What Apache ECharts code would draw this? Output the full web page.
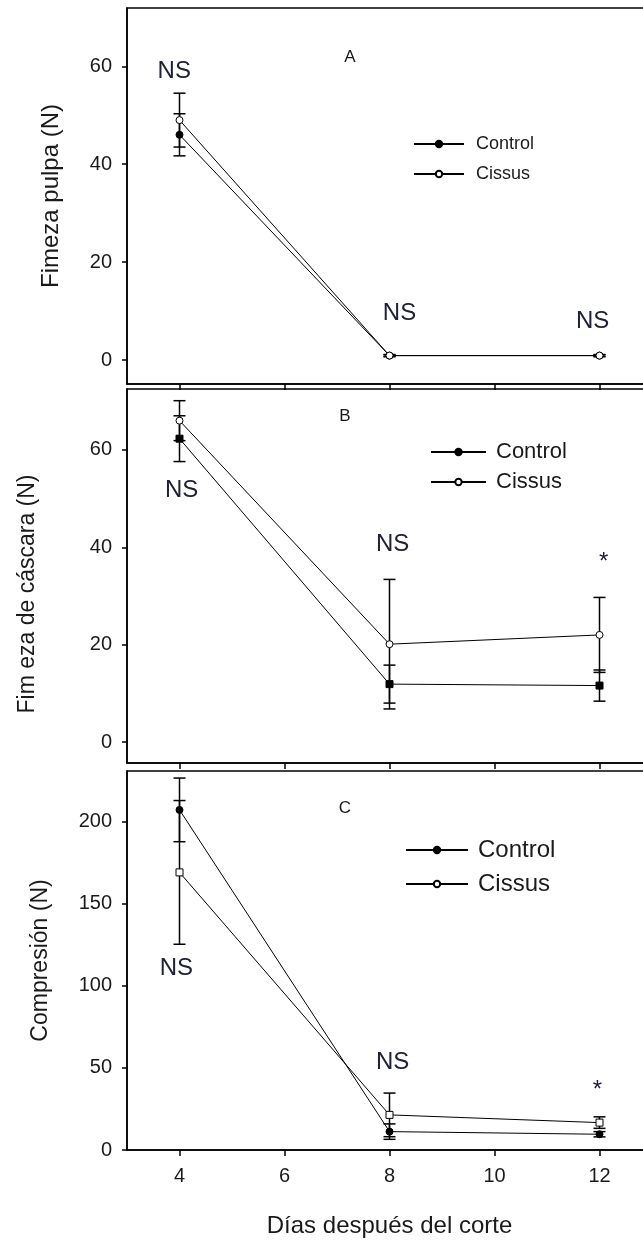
<!DOCTYPE html>
<html><head><meta charset="utf-8">
<script src="https://cdn.jsdelivr.net/npm/echarts@6/dist/echarts.min.js"></script>
<style>html,body{margin:0;padding:0;background:#fff}#c{width:643px;height:1247px}</style>
</head><body><div id="c"></div>
<script>
// ---------- data ----------
const days = [4, 8, 12];
const xTicks = [4, 6, 8, 10, 12];

// Panel A: Fimeza pulpa (N)
const ctrlA = [46.0, 0.9, 0.9];
const ctrlAErr = [4.3, 0.2, 0.2];
const cisA = [49.0, 0.9, 0.9];
const cisAErr = [5.5, 0.2, 0.2];
const yTicksA = [0, 20, 40, 60];
const noteXA = [3.9, 8.19, 11.87];
const noteYA = [59, 9.6, 7.8];
const noteTA = ['NS', 'NS', 'NS'];

// Panel B: Firmeza de cáscara (N)
const ctrlB = [62.3, 11.9, 11.6];
const ctrlBErr = [4.7, 3.9, 3.2];
const cisB = [66.0, 20.1, 22.0];
const cisBErr = [4.1, 13.3, 7.7];
const yTicksB = [0, 20, 40, 60];
const noteXB = [4.04, 8.06, 12.08];
const noteYB = [51.6, 40.5, 36.9];
const noteTB = ['NS', 'NS', '*'];

// Panel C: Compresión (N)
const ctrlC = [207.3, 11.2, 9.6];
const ctrlCErr = [19.4, 4.7, 1.6];
const cisC = [169.2, 21.4, 16.7];
const cisCErr = [43.8, 13.3, 3.5];
const yTicksC = [0, 50, 100, 150, 200];
const noteXC = [3.94, 8.06, 11.96];
const noteYC = [111, 53.7, 36.6];
const noteTC = ['NS', 'NS', '*'];

// ---------- build ----------
const FONT = '"Liberation Sans", Arial, sans-serif';
const TXT = '#1a1a1a';

const panels = [
  {letter:'A', ctrl:ctrlA, ctrlErr:ctrlAErr, cis:cisA, cisErr:cisAErr, ticks:yTicksA,
   nx:noteXA, ny:noteYA, nt:noteTA, top:8, height:376, min:-4.9, max:71.9,
   name:'Fimeza pulpa (N)', nameGap:64, nameSize:24, namePad:[0,0,0,0],
   ctrlSym:'circle', cisSym:'circle', letterPos:[350,57], letterSize:17},
  {letter:'B', ctrl:ctrlB, ctrlErr:ctrlBErr, cis:cisB, cisErr:cisBErr, ticks:yTicksB,
   nx:noteXB, ny:noteYB, nt:noteTB, top:389, height:374, min:-4.3, max:72.5,
   name:'Fim eza de cáscara (N)', nameGap:88, nameSize:23, namePad:[0,36,0,0],
   ctrlSym:'rect', cisSym:'circle', letterPos:[345,416], letterSize:17},
  {letter:'C', ctrl:ctrlC, ctrlErr:ctrlCErr, cis:cisC, cisErr:cisCErr, ticks:yTicksC,
   nx:noteXC, ny:noteYC, nt:noteTC, top:771, height:379, min:0, max:231,
   name:'Compresión (N)', nameGap:75, nameSize:23, namePad:[0,0,0,0],
   ctrlSym:'circle', cisSym:'rect', letterPos:[345,808], letterSize:17}
];

function errRender(params, api) {
  const x = api.value(0), lo = api.value(1), hi = api.value(2);
  const p1 = api.coord([x, hi]), p2 = api.coord([x, lo]);
  const w = 6;
  const st = {stroke:'#000', lineWidth:1.5, fill:null};
  return {type:'group', children:[
    {type:'line', shape:{x1:p1[0], y1:p1[1], x2:p2[0], y2:p2[1]}, style:st},
    {type:'line', shape:{x1:p1[0]-w, y1:p1[1], x2:p1[0]+w, y2:p1[1]}, style:st},
    {type:'line', shape:{x1:p2[0]-w, y1:p2[1], x2:p2[0]+w, y2:p2[1]}, style:st}
  ]};
}

function makeNoteRender(texts) {
  return function (params, api) {
    const pt = api.coord([api.value(0), api.value(1)]);
    return {type:'text', x:pt[0], y:pt[1],
      style:{text:texts[params.dataIndex], font:'24px ' + FONT, fill:'#20203a',
        align:'center', verticalAlign:'middle'}};
  };
}

const grid = [], xAxis = [], yAxis = [], series = [], graphic = [];
panels.forEach((p, i) => {
  grid.push({left:127, width:525, top:p.top, height:p.height, show:true,
    borderColor:'#000', borderWidth:1.5, backgroundColor:'transparent',
    containLabel:false, outerBoundsMode:'none'});
  const isLast = i === panels.length - 1;
  xAxis.push({gridIndex:i, type:'value', min:3, max:13,
    axisLine:{show:true, onZero:false, lineStyle:{color:'#000', width:1.5}},
    axisTick:{show:true, inside:false, length:6, customValues:xTicks, lineStyle:{color:'#000', width:1.5}},
    axisLabel:{show:isLast, customValues:xTicks, fontSize:20, color:TXT, fontFamily:FONT, margin:16},
    splitLine:{show:false},
    name: isLast ? 'Días después del corte' : '',
    nameLocation:'middle', nameGap:64,
    nameTextStyle:{fontSize:24, color:TXT, fontFamily:FONT}
  });
  yAxis.push({gridIndex:i, type:'value', min:p.min, max:p.max,
    axisLine:{show:true, onZero:false, lineStyle:{color:'#000', width:1.5}},
    axisTick:{show:true, inside:false, length:5, customValues:p.ticks, lineStyle:{color:'#000', width:1.5}},
    axisLabel:{customValues:p.ticks, fontSize:20, color:TXT, fontFamily:FONT, margin:15},
    splitLine:{show:false},
    name:p.name, nameLocation:'middle', nameGap:p.nameGap,
    nameTextStyle:{fontSize:p.nameSize, color:TXT, fontFamily:FONT, padding:p.namePad}
  });
  const errData = [];
  days.forEach((d, k) => {
    errData.push([d, p.ctrl[k] - p.ctrlErr[k], p.ctrl[k] + p.ctrlErr[k]]);
    errData.push([d, p.cis[k] - p.cisErr[k], p.cis[k] + p.cisErr[k]]);
  });
  series.push({type:'custom', xAxisIndex:i, yAxisIndex:i, renderItem:errRender,
    data:errData, encode:{x:0, y:[1,2]}, z:2, silent:true});
  series.push({name:'Control', type:'line', xAxisIndex:i, yAxisIndex:i,
    data:days.map((d,k)=>[d, p.ctrl[k]]), symbol:p.ctrlSym, symbolSize:7,
    lineStyle:{color:'#000', width:1}, itemStyle:{color:'#000', borderColor:'#000', borderWidth:1},
    z:3, silent:true});
  series.push({name:'Cissus', type:'line', xAxisIndex:i, yAxisIndex:i,
    data:days.map((d,k)=>[d, p.cis[k]]), symbol:p.cisSym, symbolSize:7,
    lineStyle:{color:'#000', width:1}, itemStyle:{color:'#fff', borderColor:'#000', borderWidth:1},
    z:4, silent:true});
  series.push({type:'custom', xAxisIndex:i, yAxisIndex:i, renderItem:makeNoteRender(p.nt),
    silent:true, z:5, encode:{x:0, y:1},
    data:p.nx.map((x,k)=>[x, p.ny[k]])});
  graphic.push({type:'text', x:p.letterPos[0], y:p.letterPos[1],
    style:{text:p.letter, font:p.letterSize+'px '+FONT, fill:TXT,
      textAlign:'center', textVerticalAlign:'middle'}});
});

const legend = [
  {left:408, top:130, orient:'vertical', itemWidth:50, itemHeight:8, itemGap:12,
   selectedMode:false, data:['Control','Cissus'],
   textStyle:{fontSize:18, color:TXT, fontFamily:FONT, padding:[0,0,0,7]}},
  {left:425, top:436, orient:'vertical', itemWidth:55, itemHeight:8, itemGap:8,
   selectedMode:false, data:['Control','Cissus'],
   textStyle:{fontSize:22, color:TXT, fontFamily:FONT, padding:[0,0,0,5]}},
  {left:400, top:833, orient:'vertical', itemWidth:62, itemHeight:8, itemGap:10,
   selectedMode:false, data:['Control','Cissus'],
   textStyle:{fontSize:24, color:TXT, fontFamily:FONT, padding:[0,0,0,5]}}
];

const chart = echarts.init(document.getElementById('c'), null, {renderer:'canvas'});
chart.setOption({animation:false, backgroundColor:'#fff', grid, xAxis, yAxis, series, legend, graphic});
</script></body></html>
